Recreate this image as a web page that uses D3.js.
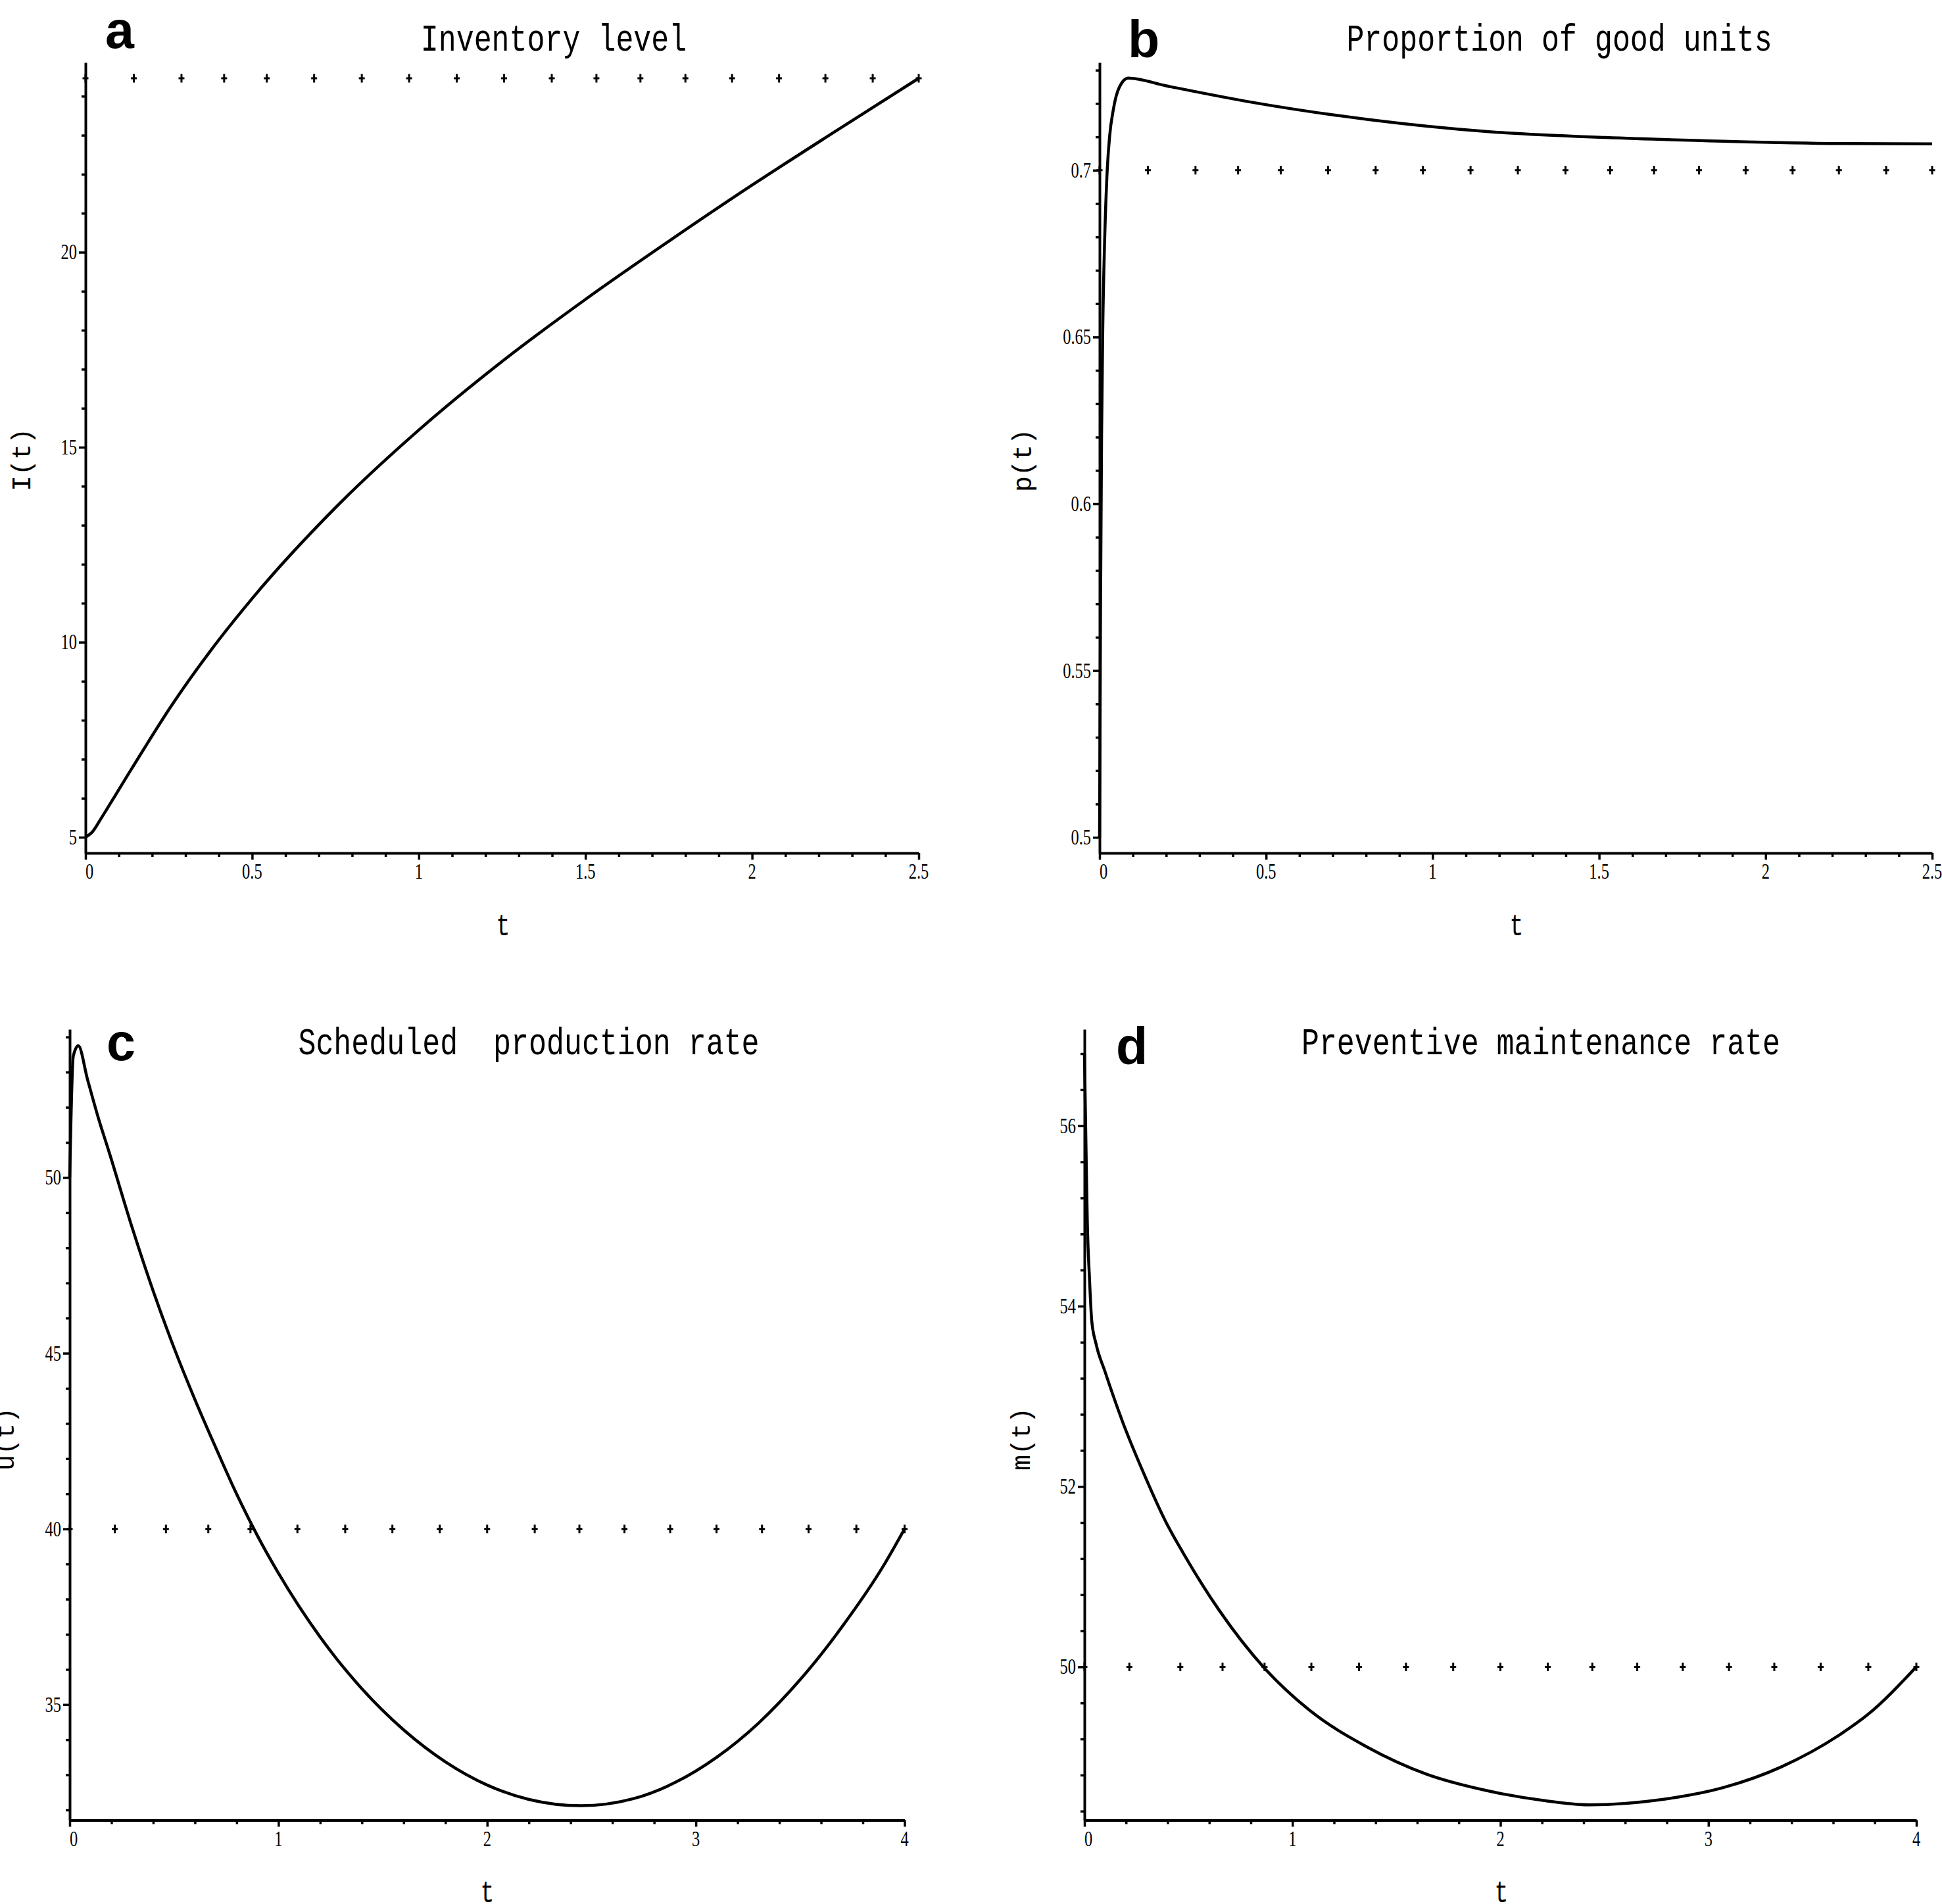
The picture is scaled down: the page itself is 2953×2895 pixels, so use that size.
<!DOCTYPE html>
<html><head><meta charset="utf-8">
<script src="https://cdn.jsdelivr.net/npm/d3@7/dist/d3.min.js"></script>
<style>html,body{margin:0;padding:0;background:#fff;}svg{display:block;} text{white-space:pre;}</style>
</head><body>
<script>
// ---------- data ----------
const tInventory = [0, 0.02, 0.046, 0.085, 0.125, 0.175, 0.25, 0.375, 0.5, 0.75, 1.0, 1.25, 1.5, 1.75, 2.0, 2.25, 2.5];
const inventory  = [5, 5.13, 5.47, 6.01, 6.57, 7.26, 8.27, 9.78, 11.12, 13.45, 15.44, 17.2, 18.79, 20.28, 21.72, 23.1, 24.46];
const inventoryTarget = 24.46;

const tGood = [0, 0.003, 0.006, 0.010, 0.015, 0.022, 0.030, 0.041, 0.059, 0.086, 0.2, 0.45, 0.807, 1.163, 1.519, 1.874, 2.23, 2.5];
const goodUnits = [0.5, 0.57, 0.62, 0.655, 0.678, 0.698, 0.71, 0.718, 0.7248, 0.7276, 0.7253, 0.7205, 0.7152, 0.7116, 0.7098, 0.7087, 0.708, 0.7079];
const goodTarget = 0.7;

const tProduction = [0, 0.017, 0.041, 0.085, 0.137, 0.19, 0.3, 0.4, 0.5, 0.6, 0.7, 0.8, 0.9, 1.0, 1.2, 1.4, 1.6, 1.8, 2.0, 2.2, 2.449, 2.7, 2.9, 3.1, 3.3, 3.5, 3.7, 3.9, 4.0];
const production  = [50, 53.45, 53.75, 52.8, 51.7, 50.7, 48.56, 46.77, 45.15, 43.68, 42.31, 40.99, 39.8, 38.74, 36.92, 35.45, 34.28, 33.37, 32.71, 32.3, 32.12, 32.32, 32.78, 33.5, 34.47, 35.71, 37.21, 38.96, 40.0];
const productionTarget = 40;

const tMaintenance = [0, 0.0085, 0.0137, 0.024, 0.035, 0.056, 0.098, 0.183, 0.288, 0.393, 0.478, 0.65, 0.86, 1.076, 1.36, 1.645, 1.93, 2.2, 2.428, 2.78, 3.07, 3.35, 3.64, 3.766, 4];
const maintenance  = [56.8, 55.62, 54.95, 54.32, 53.84, 53.58, 53.28, 52.72, 52.13, 51.6, 51.25, 50.62, 50.0, 49.53, 49.11, 48.81, 48.63, 48.52, 48.47, 48.53, 48.66, 48.89, 49.26, 49.47, 50.0];
const maintenanceTarget = 50;

const tMarksTop    = [0, 0.145, 0.288, 0.416, 0.544, 0.686, 0.829, 0.971, 1.114, 1.256, 1.399, 1.533, 1.665, 1.80, 1.94, 2.081, 2.22, 2.362, 2.5];
const tMarksBottom = [0, 0.216, 0.461, 0.664, 0.866, 1.091, 1.32, 1.546, 1.773, 2.0, 2.228, 2.442, 2.658, 2.877, 3.099, 3.317, 3.54, 3.769, 4.0];

const titles = ["Inventory level", "Proportion of good units", "Scheduled  production rate", "Preventive maintenance rate"];
const letters = ["a", "b", "c", "d"];
const yNames = ["I(t)", "p(t)", "u(t)", "m(t)"];
const xName = "t";

const xTicksTop = [0, 0.5, 1, 1.5, 2, 2.5];
const xTicksBottom = [0, 1, 2, 3, 4];
const yTicksA = [5, 10, 15, 20];
const yTicksB = [0.5, 0.55, 0.6, 0.65, 0.7];
const yTicksC = [35, 40, 45, 50];
const yTicksD = [50, 52, 54, 56];

// ---------- layout ----------
const W = 2953, H = 2895;
const panels = [
  {t: tInventory, v: inventory, target: inventoryTarget, marks: tMarksTop,
   xDom: [0, 2.5], yDom: [4.595, 24.865], x0: 130, x1: 1397, yB: 1297, yT: 95,
   xt: xTicksTop, xMinor: 0.1, yt: yTicksA, yMinor: 1,
   title: {x: 842, y: 77}, letter: {x: 160, y: 72.5}, yName: {x: 46, y: 699}, xName: {x: 765, y: 1422}},
  {t: tGood, v: goodUnits, target: goodTarget, marks: tMarksTop,
   xDom: [0, 2.5], yDom: [0.4953, 0.7323], x0: 1672, x1: 2938, yB: 1297, yT: 95,
   xt: xTicksTop, xMinor: 0.1, yt: yTicksB, yMinor: 0.01,
   title: {x: 2371, y: 77}, letter: {x: 1715, y: 87}, yName: {x: 1568, y: 700}, xName: {x: 2306, y: 1422}},
  {t: tProduction, v: production, target: productionTarget, marks: tMarksBottom,
   xDom: [0, 4], yDom: [31.71, 54.22], x0: 106, x1: 1375.5, yB: 2767.5, yT: 1565,
   xt: xTicksBottom, xMinor: 0.2, yt: yTicksC, yMinor: 1,
   title: {x: 804, y: 1603}, letter: {x: 162, y: 1612}, yName: {x: 21, y: 2188}, xName: {x: 741, y: 2892}},
  {t: tMaintenance, v: maintenance, target: maintenanceTarget, marks: tMarksBottom,
   xDom: [0, 4], yDom: [48.30, 57.07], x0: 1649, x1: 2914, yB: 2767.5, yT: 1565,
   xt: xTicksBottom, xMinor: 0.2, yt: yTicksD, yMinor: 0.4,
   title: {x: 2343, y: 1603}, letter: {x: 1697, y: 1618}, yName: {x: 1566, y: 2188}, xName: {x: 2283, y: 2892}}
];

const svg = d3.select("body").append("svg").attr("width", W).attr("height", H)
  .style("font-kerning", "none");

const monoFont = "'Liberation Mono', 'Courier New', monospace";
const serifFont = "'Liberation Serif', 'Times New Roman', serif";
const sansFont = "'Liberation Sans', Arial, sans-serif";

panels.forEach((p, i) => {
  const g = svg.append("g");
  const x = d3.scaleLinear().domain(p.xDom).range([p.x0, p.x1]);
  const y = d3.scaleLinear().domain(p.yDom).range([p.yB, p.yT]);
  const fmt = d => String(d);

  // minor ticks
  const eps = 1e-9;
  const xMinorVals = d3.range(p.xDom[0], p.xDom[1] + eps, p.xMinor)
    .filter(v => !p.xt.some(t => Math.abs(t - v) < 1e-6));
  const yStart = Math.ceil(p.yDom[0] / p.yMinor - eps) * p.yMinor;
  const yMinorVals = d3.range(yStart, p.yDom[1] + eps, p.yMinor)
    .filter(v => !p.yt.some(t => Math.abs(t - v) < 1e-6));

  g.append("g").attr("transform", `translate(0,${p.yB})`)
    .call(d3.axisBottom(x).tickValues(p.xt).tickSize(10).tickSizeOuter(0).tickFormat(""));
  g.append("g").attr("transform", `translate(0,${p.yB})`)
    .call(d3.axisBottom(x).tickValues(xMinorVals).tickSize(6).tickSizeOuter(0).tickFormat(""))
    .select(".domain").remove();
  g.append("g").attr("transform", `translate(${p.x0},0)`)
    .call(d3.axisLeft(y).tickValues(p.yt).tickSize(10).tickSizeOuter(0).tickFormat(""));
  g.append("g").attr("transform", `translate(${p.x0},0)`)
    .call(d3.axisLeft(y).tickValues(yMinorVals).tickSize(6).tickSizeOuter(0).tickFormat(""))
    .select(".domain").remove();
  g.selectAll(".tick line").attr("stroke", "#000").attr("stroke-width", 3.5);
  g.selectAll(".domain").attr("stroke", "#000").attr("stroke-width", 4);

  // tick labels
  g.selectAll(".xl").data(p.xt).enter().append("text")
    .attr("transform", d => `translate(${x(d)},${p.yB + 39}) scale(0.72,1)`)
    .attr("text-anchor", (d, k) => k === 0 ? "start" : "middle")
    .attr("font-family", serifFont).attr("font-size", 34).attr("fill", "#000")
    .text(fmt);
  g.selectAll(".yl").data(p.yt).enter().append("text")
    .attr("transform", d => `translate(${p.x0 - 13},${y(d) + 11}) scale(0.72,1)`)
    .attr("text-anchor", "end")
    .attr("font-family", serifFont).attr("font-size", 34).attr("fill", "#000")
    .text(fmt);

  // target line made of crosses
  g.selectAll(".mk").data(p.marks).enter().append("path")
    .attr("transform", d => `translate(${x(d)},${y(p.target)})`)
    .attr("d", "M-4.5,0H4.5M0,-6.5V6.5")
    .attr("stroke", "#000").attr("stroke-width", 3).attr("fill", "none");

  // curve
  const pts = p.t.map((t, k) => [t, p.v[k]]);
  g.append("path").datum(pts)
    .attr("d", d3.line().x(d => x(d[0])).y(d => y(d[1])).curve(d3.curveMonotoneX))
    .attr("fill", "none").attr("stroke", "#000").attr("stroke-width", 4.5)
    .attr("stroke-linejoin", "round");

  // texts
  g.append("text").attr("transform", `translate(${p.title.x},${p.title.y}) scale(0.775,1)`)
    .attr("text-anchor", "middle").attr("font-family", monoFont).attr("font-size", 58)
    .attr("fill", "#000").text(titles[i]);
  g.append("text").attr("x", p.letter.x).attr("y", p.letter.y)
    .attr("font-family", sansFont).attr("font-weight", "bold").attr("font-size", 79)
    .attr("fill", "#000").text(letters[i]);
  g.append("text").attr("transform", `translate(${p.yName.x},${p.yName.y}) rotate(-90)`)
    .attr("text-anchor", "middle").attr("font-family", monoFont).attr("font-size", 40)
    .attr("fill", "#000").text(yNames[i]);
  g.append("text").attr("transform", `translate(${p.xName.x},${p.xName.y}) scale(0.76,1)`)
    .attr("text-anchor", "middle").attr("font-family", monoFont).attr("font-size", 46)
    .attr("fill", "#000").text(xName);
});
</script>
</body></html>
